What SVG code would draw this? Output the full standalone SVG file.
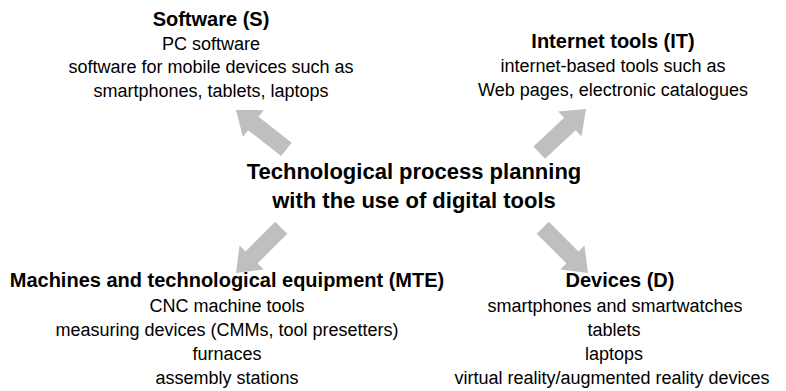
<svg xmlns="http://www.w3.org/2000/svg" xmlns:xlink="http://www.w3.org/1999/xlink" width="786" height="391" viewBox="0 0 786 391">
<style>
text{font-family:"Liberation Sans",Arial,sans-serif;fill:#000;text-anchor:middle}
.h{font-weight:bold;font-size:20px}
.b{font-size:18px}
.t{font-weight:bold;font-size:22px}
.arr{fill:#bfbfbf}
</style>
<defs>
<polygon id="arrow" class="arr" points="-64,-8.5 -22,-8.5 -22,-17 0,0 -22,17 -22,8.5 -64,8.5"/>
</defs>
<rect width="786" height="391" fill="#fff"/>
<g id="connectors">
<use xlink:href="#arrow" href="#arrow" transform="translate(236,110) rotate(-142)"/>
<use xlink:href="#arrow" href="#arrow" transform="translate(586,109) rotate(-43)"/>
<use xlink:href="#arrow" href="#arrow" transform="translate(236,273) rotate(135)"/>
<use xlink:href="#arrow" href="#arrow" transform="translate(588,273) rotate(45)"/>
</g>
<g id="center">
<text class="t" x="414" y="179">Technological process planning</text>
<text class="t" x="414" y="208">with the use of digital tools</text>
</g>
<g id="software">
<text class="h" x="211" y="26">Software (S)</text>
<text class="b" x="211" y="50">PC software</text>
<text class="b" x="211" y="73">software for mobile devices such as</text>
<text class="b" x="211" y="97">smartphones, tablets, laptops</text>
</g>
<g id="internet">
<text class="h" x="613" y="48">Internet tools (IT)</text>
<text class="b" x="613" y="72">internet-based tools such as</text>
<text class="b" x="613" y="96">Web pages, electronic catalogues</text>
</g>
<g id="machines">
<text class="h" x="227" y="287">Machines and technological equipment (MTE)</text>
<text class="b" x="227" y="312">CNC machine tools</text>
<text class="b" x="227" y="336">measuring devices (CMMs, tool presetters)</text>
<text class="b" x="227" y="360">furnaces</text>
<text class="b" x="227" y="384">assembly stations</text>
</g>
<g id="devices">
<text class="h" x="620" y="287">Devices (D)</text>
<text class="b" x="615" y="312">smartphones and smartwatches</text>
<text class="b" x="614" y="336">tablets</text>
<text class="b" x="614" y="360">laptops</text>
<text class="b" x="612" y="384">virtual reality/augmented reality devices</text>
</g>
</svg>
